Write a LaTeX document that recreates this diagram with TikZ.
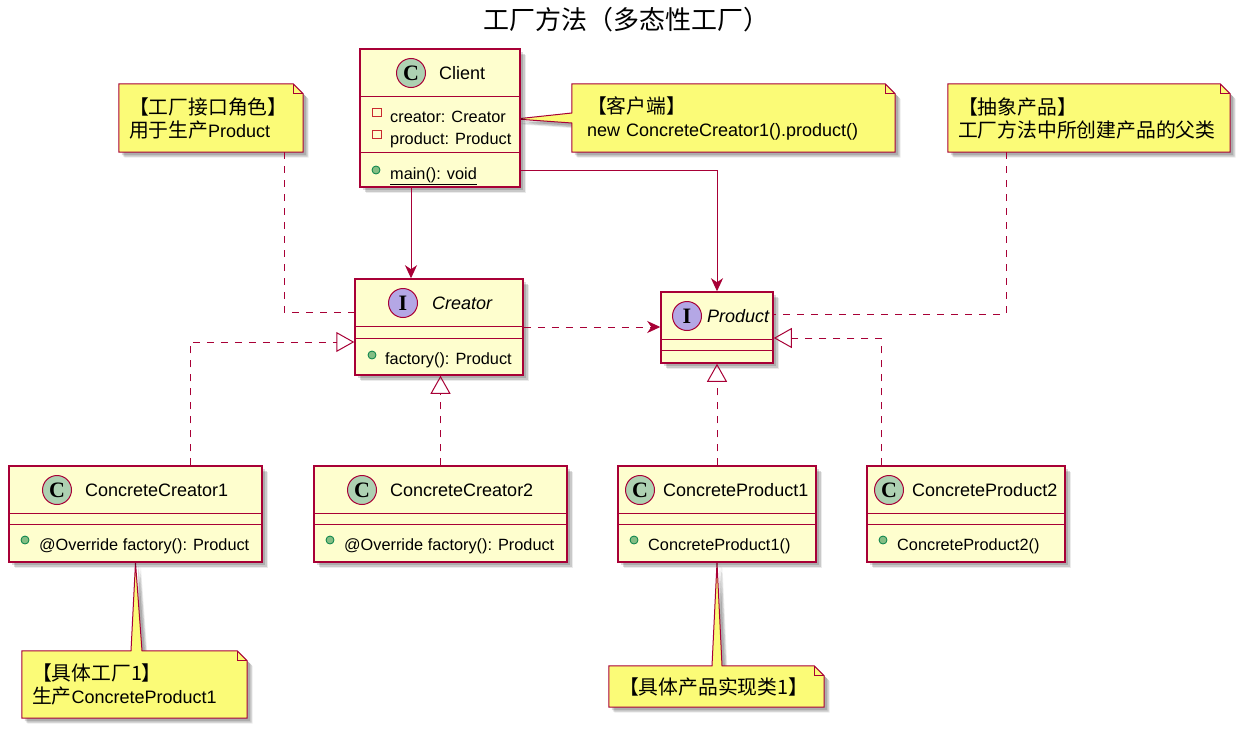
\documentclass[tikz,border=0pt]{standalone}
\usepackage{fontspec}
\setmainfont{Liberation Sans}
\newfontfamily\cjk[Scale=1.1]{Noto Sans CJK SC}
\newfontfamily\cjktitle{Noto Sans CJK SC}
\newfontfamily\spotfont{Liberation Serif}
\usepackage{tikz}
\usetikzlibrary{arrows.meta, positioning, backgrounds, shadows}
\definecolor{Ivory}{HTML}{FEFECE}
\definecolor{Crimson}{HTML}{A80036}
\definecolor{Sage}{HTML}{ADD1B2}
\definecolor{Lavender}{HTML}{B4A7E5}
\definecolor{NoteYellow}{HTML}{FBFB77}
\definecolor{RedDot}{HTML}{C82930}
\definecolor{GreenDot}{HTML}{84BE84}
\definecolor{DarkGreen}{HTML}{038048}

\begin{document}
\begin{tikzpicture}[x=1pt, y=-1pt,
  softshadow/.style={
    drop shadow={shadow xshift=5.5pt, shadow yshift=-5.5pt, fill=black, opacity=0.08},
    drop shadow={shadow xshift=4.5pt, shadow yshift=-4.5pt, fill=black, opacity=0.14},
    drop shadow={shadow xshift=3pt, shadow yshift=-3pt, fill=black, opacity=0.14}},
  classbox/.style={rectangle, draw=Crimson, fill=Ivory, line width=1.5pt, inner sep=0pt, softshadow},
  sepline/.style={draw=Crimson, line width=1.5pt},
  spot/.style={circle, draw=Crimson, line width=1pt, minimum size=29pt, inner sep=0pt, font=\spotfont\bfseries\fontsize{22}{22}\selectfont},
  spotC/.style={spot, fill=Sage},
  spotI/.style={spot, fill=Lavender},
  clsname/.style={inner sep=0pt, anchor=base west, font=\fontsize{18}{22}\selectfont},
  ifname/.style={clsname, font=\itshape\fontsize{18}{22}\selectfont},
  member/.style={inner sep=0pt, anchor=base west, font=\fontsize{16.3}{20}\selectfont},
  privicon/.style={rectangle, draw=RedDot, line width=1pt, minimum size=8.5pt, inner sep=0pt},
  pubicon/.style={circle, draw=DarkGreen, fill=GreenDot, line width=0.8pt, minimum size=8pt, inner sep=0pt},
  notetext/.style={inner xsep=10pt, inner ysep=0pt, align=left, font=\fontsize{18}{23}\selectfont},
  notebody/.style={draw=Crimson, fill=NoteYellow, line width=1pt, softshadow},
  notefold/.style={draw=Crimson, line width=1pt},
  assoc/.style={draw=Crimson, line width=1pt, -{Stealth[length=13pt, width=12pt, inset=4pt]}},
  depend/.style={assoc, dash pattern=on 7pt off 7pt},
  realize/.style={draw=Crimson, line width=1pt, dash pattern=on 7pt off 7pt, -{Triangle[open, length=18pt, width=20pt]}},
  noteline/.style={draw=Crimson, line width=1pt, dash pattern=on 7pt off 7pt}]

  \useasboundingbox (0,0) rectangle (1249,736);
  \begin{scope}[on background layer]
    \fill[white] (0,0) rectangle (1249,736);
  \end{scope}

  \node[font=\cjktitle\fontsize{26}{30}\selectfont] (title) at (626,20) {工厂方法（多态性工厂）};

  % Client
  \node[classbox, minimum width=160pt, minimum height=138pt] (client) at (440,118) {};
  \draw[sepline] ([yshift=-48pt]client.north west) -- ([yshift=-48pt]client.north east);
  \draw[sepline] ([yshift=-104pt]client.north west) -- ([yshift=-104pt]client.north east);
  \node[spotC] (clientC) at (411,73) {C};
  \node[clsname] (clientN) at (439,79.5) {Client};
  \node[privicon] (cpriv1) at (377,112.5) {};
  \node[member] (cattr1) at (390,122) {creator: Creator};
  \node[privicon] (cpriv2) at (377,134.5) {};
  \node[member] (cattr2) at (390,144) {product: Product};
  \node[pubicon] (cpub) at (376,170) {};
  \node[member] (cmeth) at (390,179) {\underline{main(): void}};

  % Creator
  \node[classbox, minimum width=168pt, minimum height=96pt] (creator) at (439,327) {};
  \draw[sepline] ([yshift=-48pt]creator.north west) -- ([yshift=-48pt]creator.north east);
  \draw[sepline] ([yshift=-60pt]creator.north west) -- ([yshift=-60pt]creator.north east);
  \node[spotI] (creatorI) at (403,303) {I};
  \node[ifname] (creatorN) at (432,309.5) {Creator};
  \node[pubicon] (crpub) at (372,355) {};
  \node[member] (crmeth) at (385,364) {factory(): Product};

  % Product
  \node[classbox, minimum width=112pt, minimum height=71pt] (product) at (717,327.5) {};
  \draw[sepline] ([yshift=-48pt]product.north west) -- ([yshift=-48pt]product.north east);
  \draw[sepline] ([yshift=-59pt]product.north west) -- ([yshift=-59pt]product.north east);
  \node[spotI] (productI) at (687,316) {I};
  \node[ifname] (productN) at (707,322.5) {Product};

  % concrete creators
  \node[classbox, minimum width=253pt, minimum height=96pt] (cc1) at (135.5,514) {};
  \draw[sepline] ([yshift=-48pt]cc1.north west) -- ([yshift=-48pt]cc1.north east);
  \draw[sepline] ([yshift=-59pt]cc1.north west) -- ([yshift=-59pt]cc1.north east);
  \node[spotC] (cc1C) at (57,490) {C};
  \node[clsname] (cc1N) at (85,496.5) {ConcreteCreator1};
  \node[pubicon] (cc1pub) at (25,540) {};
  \node[member] (cc1meth) at (39,550) {@Override factory(): Product};

  \node[classbox, minimum width=253pt, minimum height=96pt] (cc2) at (440.5,514) {};
  \draw[sepline] ([yshift=-48pt]cc2.north west) -- ([yshift=-48pt]cc2.north east);
  \draw[sepline] ([yshift=-59pt]cc2.north west) -- ([yshift=-59pt]cc2.north east);
  \node[spotC] (cc2C) at (362,490) {C};
  \node[clsname] (cc2N) at (390,496.5) {ConcreteCreator2};
  \node[pubicon] (cc2pub) at (330,540) {};
  \node[member] (cc2meth) at (344,550) {@Override factory(): Product};

  % concrete products
  \node[classbox, minimum width=198pt, minimum height=96pt] (cp1) at (717,514) {};
  \draw[sepline] ([yshift=-48pt]cp1.north west) -- ([yshift=-48pt]cp1.north east);
  \draw[sepline] ([yshift=-59pt]cp1.north west) -- ([yshift=-59pt]cp1.north east);
  \node[spotC] (cp1C) at (640,490) {C};
  \node[clsname] (cp1N) at (663,496.5) {ConcreteProduct1};
  \node[pubicon] (cp1pub) at (634,540) {};
  \node[member] (cp1meth) at (648,550) {ConcreteProduct1()};

  \node[classbox, minimum width=198pt, minimum height=96pt] (cp2) at (966,514) {};
  \draw[sepline] ([yshift=-48pt]cp2.north west) -- ([yshift=-48pt]cp2.north east);
  \draw[sepline] ([yshift=-59pt]cp2.north west) -- ([yshift=-59pt]cp2.north east);
  \node[spotC] (cp2C) at (889,490) {C};
  \node[clsname] (cp2N) at (912,496.5) {ConcreteProduct2};
  \node[pubicon] (cp2pub) at (883,540) {};
  \node[member] (cp2meth) at (897,550) {ConcreteProduct2()};

  % notes
  \node[notetext, text width=164pt, minimum height=68pt] (n1) at (211,118)
    {{\cjk 【工厂接口角色】}\\{\cjk 用于生产}Product};
  \node[notetext, inner xsep=15pt, text width=293pt, minimum height=68pt] (n2) at (733.5,118)
    {{\cjk 【客户端】}\\new ConcreteCreator1().product()};
  \node[notetext, text width=262pt, minimum height=68pt] (n3) at (1089,118)
    {{\cjk 【抽象产品】}\\{\cjk 工厂方法中所创建产品的父类}};
  \node[notetext, text width=205pt, minimum height=67pt] (n4) at (134.5,684.5)
    {{\cjk 【具体工厂1】}\\{\cjk 生产}ConcreteProduct1};
  \node[notetext, text width=195pt, minimum height=41pt] (n5) at (716.5,686.5)
    {{\cjk 【具体产品实现类1】}};

  \begin{scope}[on background layer]
    \filldraw[notebody] (n1.north west) -- ([xshift=-10pt]n1.north east) -- ([yshift=-10pt]n1.north east)
      -- (n1.south east) -- (n1.south west) -- cycle;
    \filldraw[notebody] (n2.north west) -- ([xshift=-10pt]n2.north east) -- ([yshift=-10pt]n2.north east)
      -- (n2.south east) -- (n2.south west) -- ([yshift=-5pt]n2.west) -- ([xshift=-5pt, yshift=-1pt]client.east)
      -- ([yshift=5pt]n2.west) -- cycle;
    \filldraw[notebody] (n3.north west) -- ([xshift=-10pt]n3.north east) -- ([yshift=-10pt]n3.north east)
      -- (n3.south east) -- (n3.south west) -- cycle;
    \filldraw[notebody] (n4.north west) -- ([xshift=-4.5pt]n4.north west -| cc1.south) -- (cc1.south)
      -- ([xshift=6.5pt]n4.north west -| cc1.south) -- ([xshift=-10pt]n4.north east)
      -- ([yshift=-10pt]n4.north east) -- (n4.south east) -- (n4.south west) -- cycle;
    \filldraw[notebody] (n5.north west) -- ([xshift=-5pt]n5.north west -| cp1.south) -- (cp1.south)
      -- ([xshift=5pt]n5.north west -| cp1.south) -- ([xshift=-10pt]n5.north east)
      -- ([yshift=-10pt]n5.north east) -- (n5.south east) -- (n5.south west) -- cycle;
    \draw[notefold] ([xshift=-10pt]n1.north east) |- ([yshift=-10pt]n1.north east);
    \draw[notefold] ([xshift=-10pt]n2.north east) |- ([yshift=-10pt]n2.north east);
    \draw[notefold] ([xshift=-10pt]n3.north east) |- ([yshift=-10pt]n3.north east);
    \draw[notefold] ([xshift=-10pt]n4.north east) |- ([yshift=-10pt]n4.north east);
    \draw[notefold] ([xshift=-10pt]n5.north east) |- ([yshift=-10pt]n5.north east);
  \end{scope}

  % connectors
  \draw[assoc] (client.south -| clientC) -- (creator.north -| clientC);
  \draw[assoc] (client.east |- cpub) -| (product.north);
  \draw[depend] (creator.east) -- (creator.east -| product.west);
  \draw[noteline] ([xshift=73pt]n1.south) |- ([yshift=15pt]creator.west);
  \draw[noteline] ([xshift=-83pt]n3.south) |- ([yshift=13.5pt]product.east);
  \draw[realize] ([xshift=54.5pt]cc1.north) |- ([yshift=-15pt]creator.west);
  \draw[realize] (cc2.north) -- (cc2.north |- creator.south);
  \draw[realize] (cp1.north) -- (product.south);
  \draw[realize] ([xshift=-85pt]cp2.north) |- ([yshift=-10.5pt]product.east);
\end{tikzpicture}
\end{document}
